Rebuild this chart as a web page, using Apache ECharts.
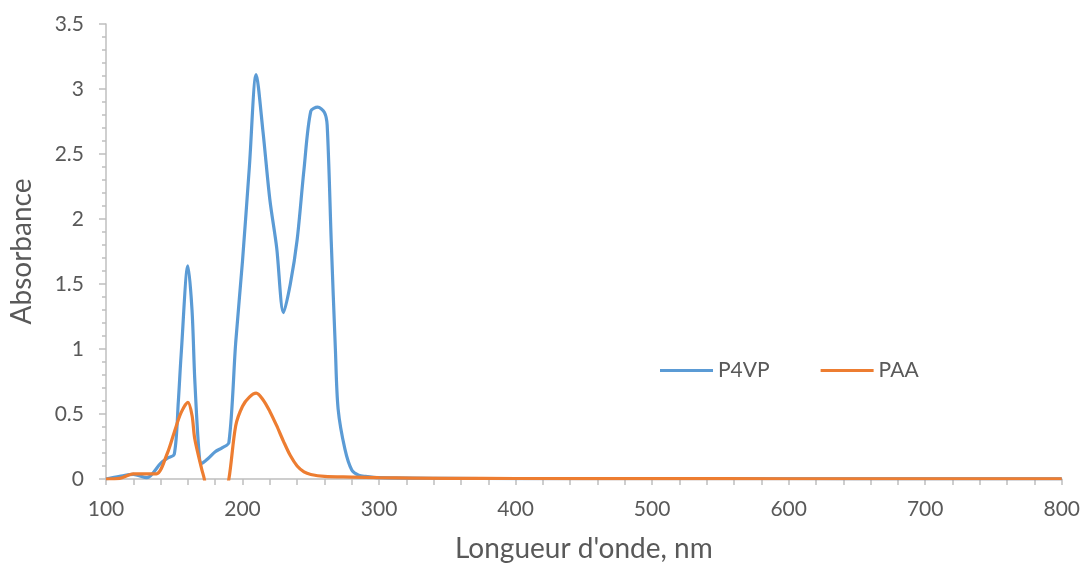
<!DOCTYPE html>
<html>
<head>
<meta charset="utf-8">
<script src="https://cdn.jsdelivr.net/npm/echarts@6/dist/echarts.min.js"></script>
<style>
  html, body { margin: 0; padding: 0; background: #fff; }
  #chart { width: 1083px; height: 568px; }
</style>
</head>
<body>
<div id="chart"></div>
<script>
// wavelengths (nm) and absorbance
var p4vpX = [100, 110, 120, 130, 140, 145, 150, 153, 155, 160, 163, 165, 168, 170, 175, 180, 185, 190, 195, 200, 205, 210, 215, 220, 225, 230, 235, 240, 245, 250, 255, 260, 262, 265, 268, 270, 275, 280, 285, 290, 300, 350, 400, 500, 600, 700, 800];
var p4vpY = [0, 0.02, 0.035, 0.01, 0.12, 0.16, 0.19, 0.6, 0.95, 1.64, 1.3, 0.77, 0.22, 0.12, 0.16, 0.21, 0.24, 0.28, 1.05, 1.68, 2.4, 3.11, 2.67, 2.15, 1.78, 1.28, 1.5, 1.84, 2.38, 2.83, 2.86, 2.82, 2.72, 1.82, 1.0, 0.54, 0.23, 0.07, 0.03, 0.02, 0.01, 0.005, 0.003, 0.002, 0.002, 0.001, 0.001];

var paaX = [100, 110, 120, 130, 137, 145, 150, 155, 160, 163, 165, 170, 172, 175, 180, 185, 190, 195, 200, 205, 210, 215, 220, 225, 230, 235, 240, 245, 250, 260, 280, 300, 350, 400, 500, 600, 700, 800];
var paaY = [0, 0.005, 0.04, 0.04, 0.04, 0.2, 0.36, 0.51, 0.59, 0.49, 0.31, 0.08, 0, -0.2, -0.35, -0.2, 0, 0.41, 0.56, 0.63, 0.66, 0.61, 0.52, 0.41, 0.29, 0.18, 0.10, 0.055, 0.035, 0.02, 0.015, 0.01, 0.005, 0.004, 0.003, 0.002, 0.002, 0.002];

var seriesNames = ['P4VP', 'PAA'];

function pairs(xs, ys) {
    return xs.map(function (x, i) { return [x, ys[i]]; });
}

var chart = echarts.init(document.getElementById('chart'), null, { renderer: 'canvas' });
var textColor = '#595959';
var axisColor = '#bfbfbf';
var font = 'Lato, "Open Sans", sans-serif';

var option = {
    backgroundColor: '#fff',
    animation: false,
    grid: {
        left: 102.6,
        right: 18.6,
        top: 24,
        bottom: 88
    },
    legend: {
        data: seriesNames,
        left: 660,
        top: 360,
        padding: 0,
        icon: 'rect',
        itemWidth: 53,
        itemHeight: 3,
        itemGap: 51,
        textStyle: { color: textColor, fontSize: 21, fontFamily: font }
    },
    xAxis: {
        type: 'value',
        min: 100,
        max: 800,
        interval: 100,
        name: "Longueur d'onde, nm",
        nameLocation: 'middle',
        nameGap: 56,
        nameTextStyle: { color: textColor, fontSize: 28, fontFamily: font },
        axisLine: { show: true, lineStyle: { color: axisColor, width: 1.5 } },
        axisTick: { show: true, length: 6, lineStyle: { color: axisColor, width: 1.5 } },
        minorTick: { show: true, splitNumber: 5, length: 6, lineStyle: { color: axisColor, width: 1.5 } },
        axisLabel: { color: textColor, fontSize: 21, margin: 20, fontFamily: font },
        splitLine: { show: false }
    },
    yAxis: {
        type: 'value',
        min: 0,
        max: 3.5,
        interval: 0.5,
        name: 'Absorbance',
        nameLocation: 'middle',
        nameGap: 70,
        nameTextStyle: { color: textColor, fontSize: 28, fontFamily: font },
        axisLine: { show: true, lineStyle: { color: axisColor, width: 1.5 } },
        axisTick: { show: true, length: 7, lineStyle: { color: axisColor, width: 1.5 } },
        minorTick: { show: true, splitNumber: 5, length: 4, lineStyle: { color: axisColor, width: 1.5 } },
        axisLabel: { color: textColor, fontSize: 21, margin: 22, fontFamily: font },
        splitLine: { show: false }
    },
    series: [
        {
            name: seriesNames[0],
            type: 'line',
            data: pairs(p4vpX, p4vpY),
            smooth: 0.3,
            showSymbol: false,
            clip: true,
            z: 2,
            itemStyle: { color: '#5B9BD5' },
            lineStyle: { color: '#5B9BD5', width: 3.2 }
        },
        {
            name: seriesNames[1],
            type: 'line',
            data: pairs(paaX, paaY),
            smooth: 0.3,
            showSymbol: false,
            clip: true,
            z: 3,
            itemStyle: { color: '#ED7D31' },
            lineStyle: { color: '#ED7D31', width: 3.2 }
        }
    ]
};

chart.setOption(option);

window.addEventListener('resize', function () {
    chart.resize();
});
</script>
</body>
</html>
